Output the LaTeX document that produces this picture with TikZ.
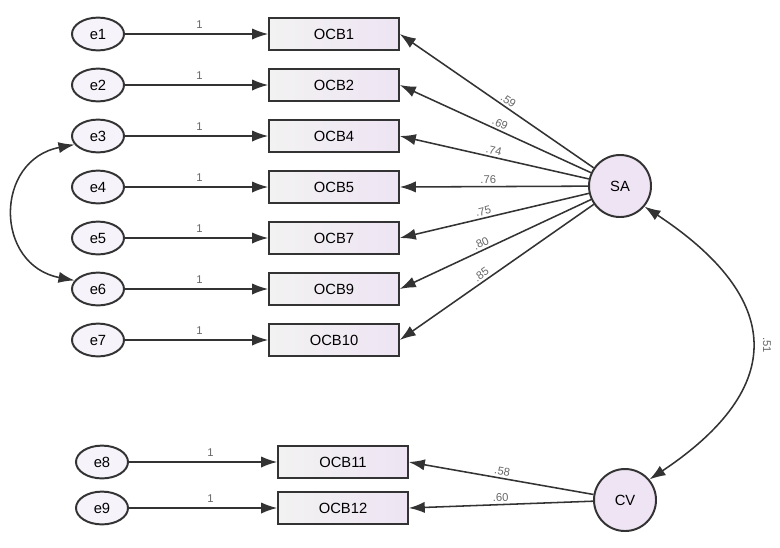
\documentclass[tikz,border=0pt]{standalone}
\usepackage{fontspec}
\setmainfont{Liberation Sans}
\usetikzlibrary{arrows.meta, shapes.geometric, positioning}

\begin{document}
\begin{tikzpicture}[x=0.025cm, y=0.025cm, font=\fontsize{10.5}{12}\selectfont]
  \definecolor{lineg}{HTML}{333333}
  \definecolor{lavender}{HTML}{EEE4F3}
  \tikzset{
    errnode/.style={ellipse, draw=lineg, line width=1.4pt, fill=lavender!45, minimum width=1.3cm, minimum height=0.82cm, inner sep=0pt},
    obsbox/.style={rectangle, draw=lineg, line width=1.1pt, left color=gray!10, right color=lavender, minimum width=3.25cm, minimum height=0.8cm, inner sep=0pt},
    latnode/.style={circle, draw=lineg, line width=1.4pt, fill=lavender, minimum size=1.55cm, inner sep=0pt},
    arr/.style={draw=lineg, line width=1.1pt, -{Latex[length=4mm, width=2.8mm]}},
    covarr/.style={draw=lineg, line width=1.1pt, {Latex[length=4mm, width=2.8mm]}-{Latex[length=4mm, width=2.8mm]}},
    coef/.style={font=\fontsize{8}{9}\selectfont, text=gray!80!black, inner sep=0.5pt}
  }
  \useasboundingbox (0,0) rectangle (780,-547);

  % error terms
  \node[errnode] (e1) at (98,-34) {e1};
  \node[errnode] (e2) at (98,-85) {e2};
  \node[errnode] (e3) at (98,-136) {e3};
  \node[errnode] (e4) at (98,-187) {e4};
  \node[errnode] (e5) at (98,-238) {e5};
  \node[errnode] (e6) at (98,-289) {e6};
  \node[errnode] (e7) at (98,-340) {e7};
  \node[errnode] (e8) at (102,-462) {e8};
  \node[errnode] (e9) at (102,-508) {e9};

  % observed items
  \node[obsbox] (OCB1) at (334,-34) {OCB1};
  \node[obsbox] (OCB2) at (334,-85) {OCB2};
  \node[obsbox] (OCB4) at (334,-136) {OCB4};
  \node[obsbox] (OCB5) at (334,-187) {OCB5};
  \node[obsbox] (OCB7) at (334,-238) {OCB7};
  \node[obsbox] (OCB9) at (334,-289) {OCB9};
  \node[obsbox] (OCB10) at (334,-340) {OCB10};
  \node[obsbox] (OCB11) at (343,-462) {OCB11};
  \node[obsbox] (OCB12) at (343,-508) {OCB12};

  % latent factors
  \node[latnode] (SA) at (620,-186) {SA};
  \node[latnode] (CV) at (625,-500) {CV};

  % error paths
  \draw[arr] (e1) -- node[coef, pos=0.52, above=3pt] {1} (OCB1);
  \draw[arr] (e2) -- node[coef, pos=0.52, above=3pt] {1} (OCB2);
  \draw[arr] (e3) -- node[coef, pos=0.52, above=3pt] {1} (OCB4);
  \draw[arr] (e4) -- node[coef, pos=0.52, above=3pt] {1} (OCB5);
  \draw[arr] (e5) -- node[coef, pos=0.52, above=3pt] {1} (OCB7);
  \draw[arr] (e6) -- node[coef, pos=0.52, above=3pt] {1} (OCB9);
  \draw[arr] (e7) -- node[coef, pos=0.52, above=3pt] {1} (OCB10);
  \draw[arr] (e8) -- node[coef, pos=0.55, above=3pt] {1} (OCB11);
  \draw[arr] (e9) -- node[coef, pos=0.55, above=3pt] {1} (OCB12);

  % loadings
  \draw[arr] (SA) -- node[coef, pos=0.46, sloped, above=1pt] {.59} (OCB1.east);
  \draw[arr] (SA) -- node[coef, pos=0.49, sloped, above=1pt] {.69} (OCB2.east);
  \draw[arr] (SA) -- node[coef, pos=0.51, sloped, above=1pt] {.74} (OCB4.east);
  \draw[arr] (SA) -- node[coef, pos=0.53, sloped, above=1pt] {.76} (OCB5.east);
  \draw[arr] (SA) -- node[coef, pos=0.55, sloped, above=1pt] {.75} (OCB7.east);
  \draw[arr] (SA) -- node[coef, pos=0.56, sloped, above=1pt] {.80} (OCB9.east);
  \draw[arr] (SA) -- node[coef, pos=0.56, sloped, above=1pt] {.85} (OCB10.east);
  \draw[arr] (CV) -- node[coef, pos=0.5, sloped, above=1pt] {.58} (OCB11.east);
  \draw[arr] (CV) -- node[coef, pos=0.5, sloped, above=1pt] {.60} (OCB12.east);

  % covariances
  \draw[covarr] (e3.200) .. controls (-6,-160) and (-6,-265) .. (e6.160);
  \draw[covarr] (SA.-40) .. controls (783,-298) and (788,-387) .. (CV.40);
  \node[coef, rotate=-90] (r51) at (767,-345) {.51};
\end{tikzpicture}
\end{document}
